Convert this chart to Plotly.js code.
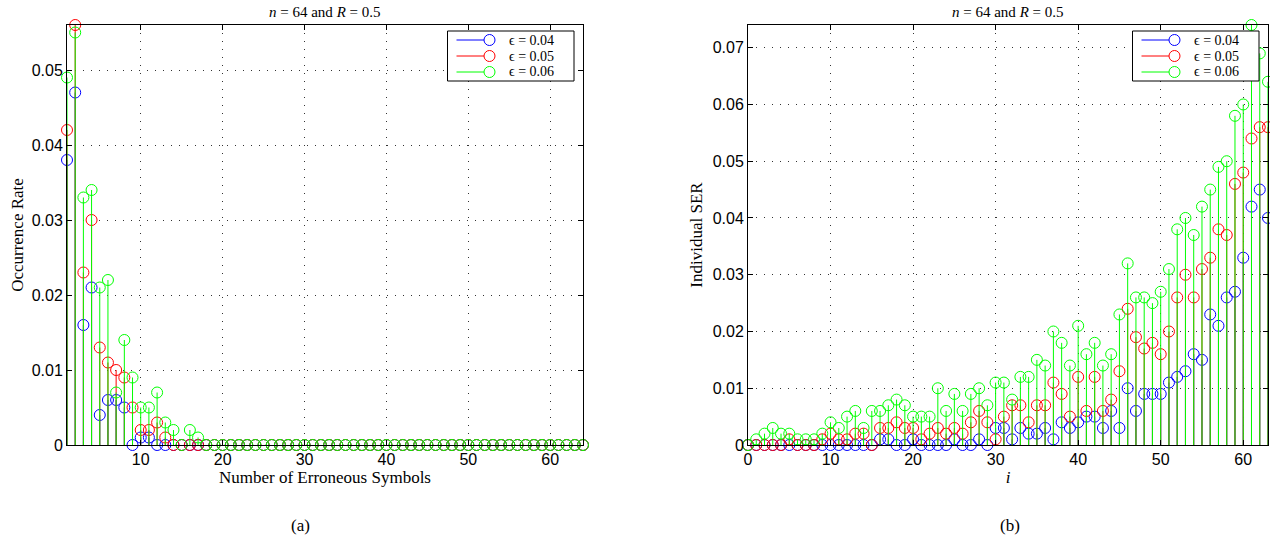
<!DOCTYPE html>
<html>
<head>
<meta charset="utf-8">
<script src="https://cdn.plot.ly/plotly-3.0.1.min.js"></script>
<style>
  html, body { margin: 0; padding: 0; background: #fff; }
  #chart { width: 1270px; height: 542px; }
</style>
</head>
<body>
<div id="chart"></div>
<script>
// ---------- Data: (a) occurrence rate vs number of erroneous symbols ----------
const symbolsA = [1,2,3,4,5,6,7,8,9,10,11,12,13,14,15,16,17,18,19,20,21,22,23,24,25,26,27,28,29,30,31,32,
                  33,34,35,36,37,38,39,40,41,42,43,44,45,46,47,48,49,50,51,52,53,54,55,56,57,58,59,60,61,62,63,64];
const rateEps004 = [0.038,0.047,0.016,0.021,0.004,0.006,0.006,0.005,0,0.001,0.001,0,0,0,0,0,0,0,0,0,0,0,0,0,0,0,0,0,0,0,0,0,
                    0,0,0,0,0,0,0,0,0,0,0,0,0,0,0,0,0,0,0,0,0,0,0,0,0,0,0,0,0,0,0,0];
const rateEps005 = [0.042,0.056,0.023,0.030,0.013,0.011,0.010,0.009,0.005,0.002,0.002,0.003,0.001,0,0,0,0,0,0,0,0,0,0,0,0,0,0,0,0,0,0,0,
                    0,0,0,0,0,0,0,0,0,0,0,0,0,0,0,0,0,0,0,0,0,0,0,0,0,0,0,0,0,0,0,0];
const rateEps006 = [0.049,0.055,0.033,0.034,0.021,0.022,0.007,0.014,0.009,0.005,0.005,0.007,0.003,0.002,0,0.002,0.001,0,0,0,0,0,0,0,0,0,0,0,0,0,0,0,
                    0,0,0,0,0,0,0,0,0,0,0,0,0,0,0,0,0,0,0,0,0,0,0,0,0,0,0,0,0,0,0,0];

// ---------- Data: (b) individual SER vs symbol index i ----------
const indexB = [0,1,2,3,4,5,6,7,8,9,10,11,12,13,14,15,16,17,18,19,20,21,22,23,24,25,26,27,28,29,30,31,
                32,33,34,35,36,37,38,39,40,41,42,43,44,45,46,47,48,49,50,51,52,53,54,55,56,57,58,59,60,61,62,63];
const serEps004 = [0,0,0,0,0,0,0,0,0,0,0,0,0,0,0,0,0.001,0.001,0,0,0.001,0,0,0,0,0.001,0,0,0.001,0,0.003,0.003,
                   0.001,0.003,0.002,0.002,0.003,0.001,0.004,0.003,0.004,0.005,0.005,0.003,0.006,0.003,0.010,0.006,0.009,0.009,0.009,0.011,0.012,0.013,0.016,0.015,0.023,0.021,0.026,0.027,0.033,0.042,0.045,0.040];
const serEps005 = [0,0,0,0,0,0.001,0,0,0,0.001,0.002,0.001,0.001,0.002,0.002,0,0.003,0.003,0.004,0.003,0.003,0.001,0.002,0.003,0.002,0.003,0.002,0.004,0.006,0.004,0.001,0.005,
                   0.007,0.007,0.004,0.007,0.007,0.011,0.009,0.005,0.012,0.006,0.012,0.006,0.008,0.013,0.024,0.019,0.017,0.018,0.016,0.020,0.026,0.030,0.026,0.031,0.033,0.038,0.037,0.046,0.048,0.054,0.056,0.056];
const serEps006 = [0,0.001,0.002,0.003,0.002,0.002,0.001,0.001,0.001,0.002,0.004,0.003,0.005,0.006,0.003,0.006,0.006,0.007,0.008,0.007,0.005,0.005,0.005,0.010,0.006,0.009,0.006,0.009,0.010,0.007,0.011,0.011,
                   0.008,0.012,0.012,0.015,0.014,0.020,0.018,0.014,0.021,0.016,0.018,0.014,0.016,0.023,0.032,0.026,0.026,0.025,0.027,0.031,0.038,0.040,0.037,0.042,0.045,0.049,0.050,0.058,0.060,0.074,0.069,0.064];

const seriesNames = ['ϵ = 0.04', 'ϵ = 0.05', 'ϵ = 0.06'];
const seriesColors = ['#0000ff', '#ff0000', '#00ff00'];

// ---------- Build stem traces ----------
function stemTrace(x, y, k, xa, ya) {
  return {
    type: 'scatter', mode: 'markers', x: x, y: y,
    xaxis: xa, yaxis: ya,
    name: seriesNames[k], showlegend: false, cliponaxis: false,
    marker: { symbol: 'circle-open', size: 11, color: seriesColors[k], line: { width: 1, color: seriesColors[k] } },
    error_y: { type: 'data', symmetric: false, array: y.map(() => 0), arrayminus: y,
               width: 0, thickness: 1, color: seriesColors[k] },
    hoverinfo: 'x+y+name'
  };
}

const dataA = [rateEps004, rateEps005, rateEps006];
const dataB = [serEps004, serEps005, serEps006];
const traces = [];
dataA.forEach((v, k) => traces.push(stemTrace(symbolsA, v, k, 'x', 'y')));
dataB.forEach((v, k) => traces.push(stemTrace(indexB, v, k, 'x2', 'y2')));

// ---------- Layout ----------
const W = 1270, H = 542;
const serif = 'Liberation Serif, Times New Roman, serif';
const sans = 'Liberation Sans, Arial, Helvetica, sans-serif';
const yDom = [(H - 445) / H, (H - 25) / H];

const axisCommon = {
  showline: true, linecolor: '#000', linewidth: 1, mirror: 'ticks',
  ticks: 'inside', ticklen: 5, tickcolor: '#000', tickwidth: 1,
  showgrid: true, gridcolor: '#333', griddash: '1px,7px', gridwidth: 1,
  zeroline: false, automargin: false,
  tickfont: { family: sans, size: 16, color: '#000' }
};

// MATLAB-style legend boxes (line sample with circle at its end), in pixel units
function legendBox(left, top) {
  const shapes = [], annos = [];
  const rowH = 16, boxW = 126.5, boxH = 50;
  shapes.push({ type: 'rect', xref: 'paper', yref: 'paper', layer: 'above',
    x0: left / W, x1: (left + boxW) / W, y0: 1 - (top + boxH) / H, y1: 1 - top / H,
    line: { color: '#000', width: 1 }, fillcolor: '#fff' });
  seriesNames.forEach((name, k) => {
    const yc = top + 9 + rowH * k;
    shapes.push({ type: 'line', xref: 'paper', yref: 'paper', layer: 'above',
      x0: (left + 9) / W, x1: (left + 36.5) / W, y0: 1 - yc / H, y1: 1 - yc / H,
      line: { color: seriesColors[k], width: 1 } });
    shapes.push({ type: 'circle', xref: 'paper', yref: 'paper', layer: 'above',
      xsizemode: 'pixel', ysizemode: 'pixel', xanchor: (left + 42) / W, yanchor: 1 - yc / H,
      x0: -5.5, x1: 5.5, y0: -5.5, y1: 5.5,
      line: { color: seriesColors[k], width: 1 }, fillcolor: 'rgba(0,0,0,0)' });
    annos.push({ text: name, xref: 'paper', yref: 'paper', x: (left + 60.5) / W, y: 1 - yc / H,
      xanchor: 'left', yanchor: 'middle', showarrow: false, borderpad: 0,
      font: { family: serif, size: 14, color: '#000' } });
  });
  return { shapes, annos };
}
const legA = legendBox(447.5, 31);
const legB = legendBox(1132.5, 31);

const layout = {
  width: W, height: H,
  margin: { l: 0, r: 0, t: 0, b: 0 },
  paper_bgcolor: '#fff', plot_bgcolor: '#fff',
  showlegend: false,
  xaxis: Object.assign({}, axisCommon, {
    domain: [67 / W, 583 / W], range: [1, 64], dtick: 10, tick0: 0, anchor: 'y',
    title: { text: 'Number of Erroneous Symbols', font: { family: serif, size: 17, color: '#000' }, standoff: 3 }
  }),
  yaxis: Object.assign({}, axisCommon, {
    domain: yDom, range: [0, 0.056], dtick: 0.01, tick0: 0, anchor: 'x',
    title: { text: 'Occurrence Rate', font: { family: serif, size: 17, color: '#000' }, standoff: 3 }
  }),
  xaxis2: Object.assign({}, axisCommon, {
    domain: [748 / W, 1268 / W], range: [0, 63], dtick: 10, tick0: 0, anchor: 'y2',
    title: { text: '<i>i</i>', font: { family: serif, size: 17, color: '#000' }, standoff: 3 }
  }),
  yaxis2: Object.assign({}, axisCommon, {
    domain: yDom, range: [0, 0.074], dtick: 0.01, tick0: 0, anchor: 'x2',
    title: { text: 'Individual SER', font: { family: serif, size: 17, color: '#000' }, standoff: 5 }
  }),
  shapes: legA.shapes.concat(legB.shapes),
  annotations: [
    { text: '<i>n</i> = 64 and <i>R</i> = 0.5', xref: 'paper', yref: 'paper', x: 325 / W, y: 1 - 12 / H,
      xanchor: 'center', yanchor: 'middle', showarrow: false, font: { family: serif, size: 15, color: '#000' } },
    { text: '<i>n</i> = 64 and <i>R</i> = 0.5', xref: 'paper', yref: 'paper', x: 1008 / W, y: 1 - 12 / H,
      xanchor: 'center', yanchor: 'middle', showarrow: false, font: { family: serif, size: 15, color: '#000' } },
    { text: '(a)', xref: 'paper', yref: 'paper', x: 300 / W, y: 1 - 525 / H,
      xanchor: 'center', yanchor: 'middle', showarrow: false, font: { family: serif, size: 17, color: '#000' } },
    { text: '(b)', xref: 'paper', yref: 'paper', x: 1010 / W, y: 1 - 525 / H,
      xanchor: 'center', yanchor: 'middle', showarrow: false, font: { family: serif, size: 17, color: '#000' } }
  ].concat(legA.annos, legB.annos)
};

Plotly.newPlot('chart', traces, layout, { displayModeBar: false });
</script>
</body>
</html>
